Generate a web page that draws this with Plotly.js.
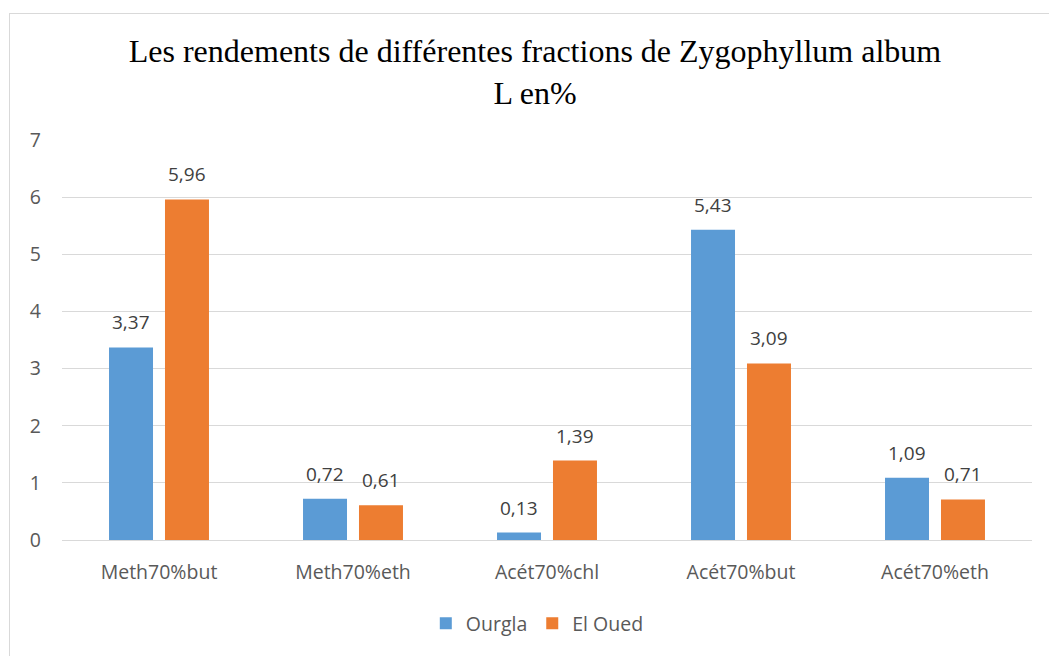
<!DOCTYPE html>
<html>
<head>
<meta charset="utf-8">
<script src="https://cdn.plot.ly/plotly-3.0.1.min.js"></script>
<style>
html,body{margin:0;padding:0;background:#fff;overflow:hidden;}
#frame{position:absolute;left:9px;top:13px;width:1100px;height:700px;border:1px solid #d9d9d9;box-sizing:border-box;}
#chart{position:absolute;left:0;top:0;width:1049px;height:656px;}
</style>
</head>
<body>
<div id="frame"></div>
<div id="chart"></div>
<script>
const categories = ["Meth70%but", "Meth70%eth", "Acét70%chl", "Acét70%but", "Acét70%eth"];
const ourgla = [3.37, 0.72, 0.13, 5.43, 1.09];
const elOued = [5.96, 0.61, 1.39, 3.09, 0.71];
const seriesNames = ["Ourgla", "El Oued"];
const fmt = v => v.toFixed(2).replace('.', ',');
const sans = "Open Sans, Liberation Sans, sans-serif";
const labelFont = {family: sans, size: 19, color: "#404040"};
const traces = [
  {type: "bar", name: seriesNames[0], x: categories, y: ourgla,
   marker: {color: "#5b9bd5"}, hoverinfo: "x+y"},
  {type: "bar", name: seriesNames[1], x: categories, y: elOued,
   marker: {color: "#ed7d31"}, hoverinfo: "x+y"}
];
const annotations = [];
[ourgla, elOued].forEach((vals, si) => {
  vals.forEach((v, i) => {
    annotations.push({x: categories[i], y: v, xref: "x", yref: "y", text: fmt(v),
      showarrow: false, xshift: si === 0 ? -28 : 28, yshift: 25, yanchor: "middle",
      font: labelFont});
  });
});
const layout = {
  width: 1049, height: 656,
  paper_bgcolor: "rgba(0,0,0,0)", plot_bgcolor: "rgba(0,0,0,0)",
  margin: {l: 62, r: 17, t: 140, b: 116},
  title: {text: "Les rendements de différentes fractions de Zygophyllum album<br>L en%",
          font: {family: "Liberation Serif, Times New Roman, serif", size: 32, color: "#000"},
          x: 0.51, xref: "container", xanchor: "center", y: 0.905, yref: "container", yanchor: "top"},
  barmode: "group", bargap: 0.423, bargroupgap: 0.214,
  xaxis: {type: "category", tickfont: {family: sans, size: 19.5, color: "#595959"},
          showline: false, ticks: "", showgrid: false, ticklabelstandoff: 18},
  yaxis: {range: [0, 7], dtick: 1, tick0: 0, tickfont: {family: sans, size: 19.5, color: "#595959"},
          gridcolor: "#d9d9d9", gridwidth: 1, zeroline: true, zerolinecolor: "#d9d9d9", zerolinewidth: 1,
          showline: false, ticks: "", ticklabelstandoff: 20},
  annotations: annotations,
  legend: {orientation: "h", x: 0.49, xanchor: "center", y: -0.16, yanchor: "top",
           font: {family: sans, size: 19.5, color: "#595959"},
           itemwidth: 30, traceorder: "normal"},
  showlegend: true
};
Plotly.newPlot("chart", traces, layout, {displayModeBar: false, staticPlot: true});
</script>
</body>
</html>
